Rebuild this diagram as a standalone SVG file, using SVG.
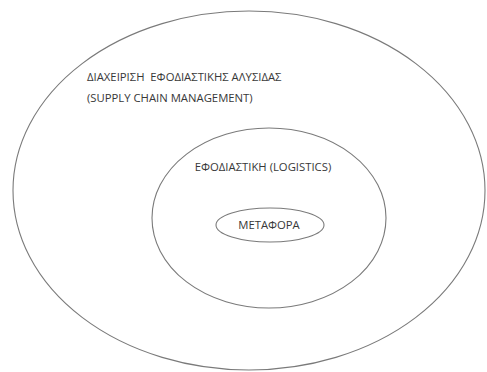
<svg xmlns="http://www.w3.org/2000/svg" width="487" height="372" viewBox="0 0 487 372">
  <style>
    .ring { fill: none; stroke: #7a7a7a; stroke-width: 1.1; }
    .lbl { font-family: "Open Sans", "Liberation Sans", sans-serif; font-size: 11.3px; fill: #383838; white-space: pre; }
  </style>
  <rect width="487" height="372" fill="#ffffff"/>

  <!-- Outer scope: supply chain management -->
  <g id="scm">
    <ellipse class="ring" cx="249" cy="190.5" rx="236" ry="179.5"/>
    <text class="lbl" x="87" y="81" xml:space="preserve">ΔΙΑΧΕΙΡΙΣΗ  ΕΦΟΔΙΑΣΤΙΚΗΣ ΑΛΥΣΙΔΑΣ</text>
    <text class="lbl" x="87" y="102">(SUPPLY CHAIN MANAGEMENT)</text>
  </g>

  <!-- Middle scope: logistics -->
  <g id="logistics">
    <ellipse class="ring" cx="269" cy="218" rx="117" ry="90"/>
    <text class="lbl" x="263" y="171" text-anchor="middle">ΕΦΟΔΙΑΣΤΙΚΗ (LOGISTICS)</text>
  </g>

  <!-- Inner scope: transport -->
  <g id="transport">
    <ellipse class="ring" cx="270" cy="225" rx="54" ry="17"/>
    <text class="lbl" x="269" y="229" text-anchor="middle">ΜΕΤΑΦΟΡΑ</text>
  </g>

  <g id="connectors"/>
</svg>
